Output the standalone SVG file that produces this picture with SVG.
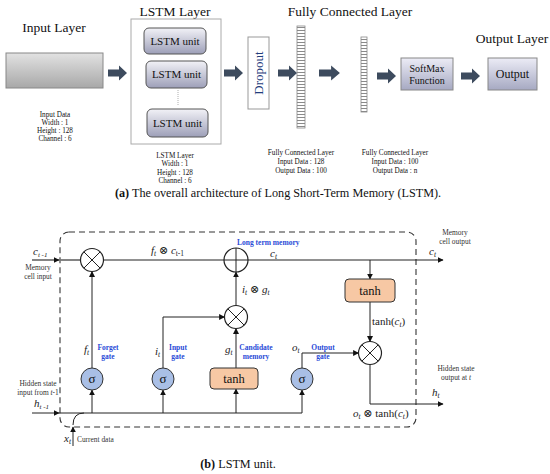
<svg xmlns="http://www.w3.org/2000/svg" width="550" height="474" viewBox="0 0 550 474">
<style>
.t{font-family:"Liberation Serif","DejaVu Serif",serif;fill:#111}
.title{font-size:13.5px}
.unit{font-size:11px}
.sm{font-size:7.2px}
.cap{font-size:12.2px}
.m{font-family:"Liberation Serif","DejaVu Serif",serif;font-size:11px;fill:#222;font-style:italic}
.mr{font-style:normal}
.lbl{font-family:"Liberation Serif","DejaVu Serif",serif;font-size:7.4px;fill:#333}
.blue{font-family:"Liberation Serif",serif;font-size:7.5px;font-weight:bold;fill:#2a4bd7}
.c{stroke:#222;stroke-width:1;fill:none}
.op{fill:#fff;stroke:#222;stroke-width:1.2}
.sig{fill:#a9bfe6;stroke:#333;stroke-width:1}
.th{fill:#f7c8a4;stroke:#333;stroke-width:1}
.blk{fill:#3d4b5e}
</style>
<defs>
<linearGradient id="gIn" x1="0" y1="0" x2="0" y2="1"><stop offset="0" stop-color="#e2e2e2"/><stop offset="1" stop-color="#a8a8a8"/></linearGradient>
<linearGradient id="gU" x1="0" y1="0" x2="0" y2="1"><stop offset="0" stop-color="#f2f2f7"/><stop offset="1" stop-color="#9d9fb8"/></linearGradient>
<linearGradient id="gS" x1="0" y1="0" x2="0" y2="1"><stop offset="0" stop-color="#ececf6"/><stop offset="1" stop-color="#a6a9c2"/></linearGradient>
<pattern id="stripes" width="10" height="3" patternUnits="userSpaceOnUse"><rect width="10" height="3" fill="#fff"/><rect width="10" height="1" fill="#8a8a8a"/></pattern>
<path id="barrow" d="M0,-3.5 H11 V-7.5 L19,0 L11,7.5 V3.5 H0 Z"/>
<marker id="ah" viewBox="0 0 10 10" refX="9" refY="5" markerWidth="6" markerHeight="6" markerUnits="userSpaceOnUse" orient="auto"><path d="M0,0 L10,5 L0,10 Z" fill="#111"/></marker>
</defs>

<!-- (a) overall architecture -->
<g id="input-layer">
<text class="t title" x="54" y="32" text-anchor="middle">Input Layer</text>
<rect x="6" y="53" width="97" height="35" fill="url(#gIn)" stroke="#888" stroke-width="1"/>
<text class="t sm" x="55" y="117" text-anchor="middle">Input Data</text>
<text class="t sm" x="55" y="125" text-anchor="middle">Width : 1</text>
<text class="t sm" x="55" y="133" text-anchor="middle">Height : 128</text>
<text class="t sm" x="55" y="141" text-anchor="middle">Channel : 6</text>
</g>
<g id="lstm-layer">
<text class="t title" x="175" y="16" text-anchor="middle">LSTM Layer</text>
<rect x="131" y="19" width="90" height="125" fill="#fff" stroke="#aaa" stroke-width="1"/>
<rect x="144" y="28" width="62" height="26" rx="5" fill="url(#gU)" stroke="#555"/>
<text class="t unit" x="175" y="45" text-anchor="middle">LSTM unit</text>
<rect x="146" y="61" width="61" height="27" rx="5" fill="url(#gU)" stroke="#555"/>
<text class="t unit" x="176.5" y="78" text-anchor="middle">LSTM unit</text>
<line x1="178" y1="90" x2="178" y2="106" stroke="#999" stroke-width="0.8" stroke-dasharray="1,1"/>
<rect x="147" y="109" width="61" height="28" rx="5" fill="url(#gU)" stroke="#555"/>
<text class="t unit" x="177.5" y="127" text-anchor="middle">LSTM unit</text>
<text class="t sm" x="175" y="158" text-anchor="middle">LSTM Layer</text>
<text class="t sm" x="175" y="166" text-anchor="middle">Width : 1</text>
<text class="t sm" x="175" y="175" text-anchor="middle">Height : 128</text>
<text class="t sm" x="175" y="183" text-anchor="middle">Channel : 6</text>
</g>
<g id="dropout">
<rect x="248" y="37" width="21" height="72" fill="#fff" stroke="#999"/>
<text class="t" x="0" y="0" font-size="13" style="fill:#1f3c7c" text-anchor="middle" transform="translate(263,73) rotate(-90)">Dropout</text>
</g>
<g id="fc-layer">
<text class="t title" x="350" y="16" text-anchor="middle">Fully Connected Layer</text>
<rect x="297" y="26" width="8" height="102" fill="url(#stripes)" stroke="#888" stroke-width="0.8"/>
<rect x="361" y="37" width="6" height="75" fill="url(#stripes)" stroke="#888" stroke-width="0.8"/>
<text class="t sm" x="301" y="155" text-anchor="middle">Fully Connected Layer</text>
<text class="t sm" x="301" y="164" text-anchor="middle">Input Data : 128</text>
<text class="t sm" x="301" y="173" text-anchor="middle">Output Data : 100</text>
<text class="t sm" x="395" y="155" text-anchor="middle">Fully Connected Layer</text>
<text class="t sm" x="395" y="164" text-anchor="middle">Input Data : 100</text>
<text class="t sm" x="395" y="173" text-anchor="middle">Output Data : n</text>
</g>
<g id="softmax">
<rect x="401" y="58" width="52" height="32" fill="url(#gS)" stroke="#888"/>
<text class="t" font-size="10" x="427" y="72" text-anchor="middle">SoftMax</text>
<text class="t" font-size="10" x="427" y="84" text-anchor="middle">Function</text>
</g>
<g id="output-layer">
<text class="t title" x="512" y="43" text-anchor="middle">Output Layer</text>
<rect x="488" y="58" width="49" height="32" fill="url(#gS)" stroke="#888"/>
<text class="t" font-size="12" x="512.5" y="78" text-anchor="middle">Output</text>
</g>
<g id="block-arrows" class="blk">
<use href="#barrow" transform="translate(108,73)"/>
<use href="#barrow" transform="translate(224,73)"/>
<use href="#barrow" transform="translate(278,73)"/>
<use href="#barrow" transform="translate(319,73) scale(1.1,1)"/>
<use href="#barrow" transform="translate(377,76)"/>
<use href="#barrow" transform="translate(461,76)"/>
</g>
<text class="t cap" x="278" y="197" text-anchor="middle"><tspan font-weight="bold">(a)</tspan> The overall architecture of Long Short-Term Memory (LSTM).</text>

<!-- (b) LSTM unit -->
<rect x="60" y="232" width="356" height="195" rx="9" fill="none" stroke="#333" stroke-width="1.1" stroke-dasharray="6,4"/>

<g id="connectors">
<path d="M32,260 H59" stroke="#777" stroke-width="1.8" fill="none" marker-end="url(#ah)"/>
<path d="M59,260 H80.5" stroke="#777" stroke-width="1.8" fill="none"/>
<path class="c" d="M103.5,260 H224"/>
<path class="c" d="M248,260 H443" marker-end="url(#ah)"/>
<path class="c" d="M370,260 V279" marker-end="url(#ah)"/>
<path class="c" d="M370,302 V341.5" marker-end="url(#ah)"/>
<path class="c" d="M370,364.5 V404 H443" marker-end="url(#ah)"/>
<path class="c" d="M92,368 V271.5" marker-end="url(#ah)"/>
<path class="c" d="M163,368 V317 H224.5" marker-end="url(#ah)"/>
<path class="c" d="M236,368 V328.5" marker-end="url(#ah)"/>
<path class="c" d="M236,305.5 V272" marker-end="url(#ah)"/>
<path class="c" d="M302,368 V353 H358.5" marker-end="url(#ah)"/>
<path class="c" d="M32,413 H59" marker-end="url(#ah)"/>
<path class="c" d="M59,413 H302"/>
<path class="c" d="M92,413 V390" marker-end="url(#ah)"/>
<path class="c" d="M163,413 V390" marker-end="url(#ah)"/>
<path class="c" d="M236,413 V389" marker-end="url(#ah)"/>
<path class="c" d="M302,413 V390" marker-end="url(#ah)"/>
<path class="c" d="M73,446 V427" marker-end="url(#ah)"/>
<path class="c" d="M73,425 Q73,413 84,413"/>
</g>

<g id="mult-forget"><circle class="op" cx="92" cy="260" r="11.5"/><path class="c" d="M83.9,251.9 L100.1,268.1 M100.1,251.9 L83.9,268.1"/></g>
<g id="plus"><circle class="op" cx="236" cy="260" r="12"/><path class="c" d="M224,260 H248 M236,248 V272"/></g>
<g id="mult-input"><circle class="op" cx="236" cy="317" r="11.5"/><path class="c" d="M227.9,308.9 L244.1,325.1 M244.1,308.9 L227.9,325.1"/></g>
<g id="mult-output"><circle class="op" cx="370" cy="353" r="11.5"/><path class="c" d="M361.9,344.9 L378.1,361.1 M378.1,344.9 L361.9,361.1"/></g>
<g id="tanh-out"><rect class="th" x="345" y="279" width="50" height="23" rx="4"/><text class="t" font-size="12.5" x="370" y="295" text-anchor="middle">tanh</text></g>
<g id="tanh-cand"><rect class="th" x="210" y="368" width="48" height="21" rx="4"/><text class="t" font-size="12.5" x="234" y="383" text-anchor="middle">tanh</text></g>
<g id="sigma-forget"><circle class="sig" cx="92" cy="379" r="11"/><text class="t" font-size="13" x="92" y="383" text-anchor="middle">σ</text></g>
<g id="sigma-input"><circle class="sig" cx="163" cy="379" r="11"/><text class="t" font-size="13" x="163" y="383" text-anchor="middle">σ</text></g>
<g id="sigma-output"><circle class="sig" cx="302" cy="379" r="11"/><text class="t" font-size="13" x="302" y="383" text-anchor="middle">σ</text></g>

<g id="labels">
<text class="m" x="33" y="255">c<tspan font-size="7" dy="2">t -1</tspan></text>
<text class="lbl" x="38" y="270" text-anchor="middle">Memory</text>
<text class="lbl" x="38" y="279" text-anchor="middle">cell input</text>
<text class="m" x="151" y="254">f<tspan font-size="7.5" dy="2">t</tspan><tspan class="mr" dy="-2"> ⊗ </tspan>c<tspan font-size="7.5" class="mr" dy="2">t-1</tspan></text>
<text class="blue" x="237" y="245">Long term memory</text>
<text class="m" x="270" y="257">c<tspan font-size="7.5" dy="2">t</tspan></text>
<text class="m" x="429" y="255">c<tspan font-size="7.5" dy="2">t</tspan></text>
<text class="m" x="242" y="293">i<tspan font-size="7.5" dy="2">t</tspan><tspan class="mr" dy="-2"> ⊗ </tspan>g<tspan font-size="7.5" dy="2">t</tspan></text>
<text class="m mr" x="372" y="325">tanh(<tspan font-style="italic">c</tspan><tspan font-size="7.5" font-style="italic" dy="2">t</tspan><tspan dy="-2">)</tspan></text>
<text class="m" x="84" y="353">f<tspan font-size="7.5" dy="2">t</tspan></text>
<text class="blue" x="108" y="350" text-anchor="middle">Forget</text>
<text class="blue" x="108" y="359" text-anchor="middle">gate</text>
<text class="m" x="155" y="355">i<tspan font-size="7.5" dy="2">t</tspan></text>
<text class="blue" x="178" y="350" text-anchor="middle">Input</text>
<text class="blue" x="178" y="359" text-anchor="middle">gate</text>
<text class="m" x="225" y="353">g<tspan font-size="7.5" dy="2">t</tspan></text>
<text class="blue" x="256" y="350" text-anchor="middle">Candidate</text>
<text class="blue" x="256" y="359" text-anchor="middle">memory</text>
<text class="m" x="292" y="351">o<tspan font-size="7.5" dy="2">t</tspan></text>
<text class="blue" x="323" y="350" text-anchor="middle">Output</text>
<text class="blue" x="323" y="359" text-anchor="middle">gate</text>
<text class="lbl" x="38" y="386" text-anchor="middle">Hidden state</text>
<text class="lbl" x="38" y="395" text-anchor="middle">input from <tspan font-style="italic">t</tspan>-1</text>
<text class="m" x="34" y="407">h<tspan font-size="7" dy="2">t -1</tspan></text>
<text class="m" x="64" y="442">x<tspan font-size="7.5" dy="2">t</tspan></text>
<text class="lbl" x="77" y="442">Current data</text>
<text class="lbl" x="455" y="235" text-anchor="middle">Memory</text>
<text class="lbl" x="455" y="244" text-anchor="middle">cell output</text>
<text class="lbl" x="456" y="371" text-anchor="middle">Hidden state</text>
<text class="lbl" x="456" y="380" text-anchor="middle">output at <tspan font-style="italic">t</tspan></text>
<text class="m" x="432" y="396">h<tspan font-size="7.5" dy="2">t</tspan></text>
<text class="m" x="353" y="417">o<tspan font-size="7.5" dy="2">t</tspan><tspan class="mr" dy="-2"> ⊗ tanh(</tspan>c<tspan font-size="7.5" dy="2">t</tspan><tspan class="mr" dy="-2">)</tspan></text>
</g>
<text class="t cap" x="238" y="468" text-anchor="middle"><tspan font-weight="bold">(b)</tspan> LSTM unit.</text>
</svg>
